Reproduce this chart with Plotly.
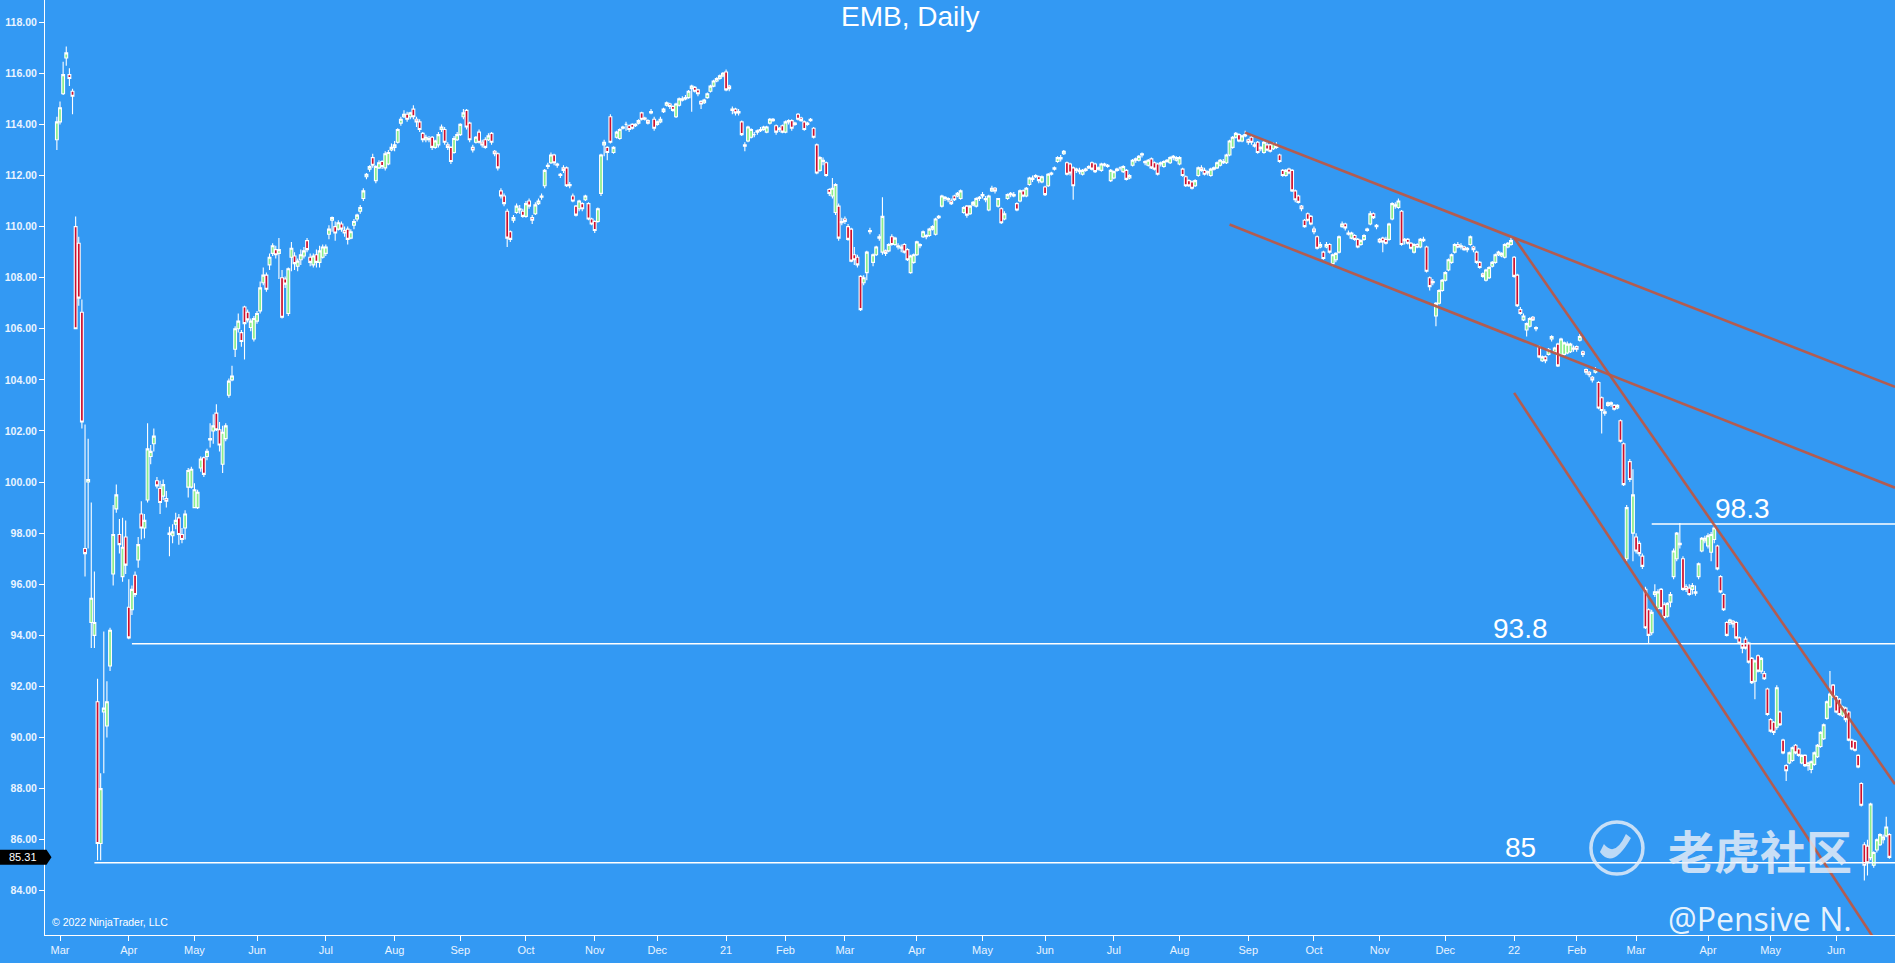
import plotly.graph_objects as go
import pandas as pd

# ---------------- data (EMB daily) ----------------
open_px = [
    113.4,
    114.1, 115.2, 116.6, 115.95, 115.3, 110.0, 109.35, 106.65, 97.4, 100.0, 94.5, 94.0, 91.4, 85.85, 91.0, 90.45, 92.8, 96.4, 98.95, 97.95, 96.3, 97.85,
    95.1, 95.0, 96.35, 96.95, 98.75, 98.2, 99.3, 101.0, 101.5, 100.05, 99.75, 99.45, 99.35, 97.95, 97.9, 98.35, 98.6, 97.95, 98.2, 99.8, 99.8,
    99.0, 99.0, 100.55, 100.95, 101.0, 101.65, 102.0, 102.7, 102.05, 100.7, 101.7, 103.4, 104.0, 105.2, 106.0, 105.85, 106.85, 106.65, 106.05, 105.6,
    106.3, 106.7, 107.8, 108.1, 108.5, 108.95, 109.1, 108.95, 108.0, 107.95, 106.6, 108.8, 108.85, 108.45, 108.7, 108.85, 109.45, 108.8, 108.5, 108.9, 108.6, 108.8,
    108.95, 109.7, 110.25, 110.0, 109.9, 110.1, 109.85, 109.9, 109.55, 110.05, 110.3, 110.6, 111.1, 111.95, 112.25, 112.7, 111.8, 112.3, 112.55, 112.3, 112.45, 113.0,
    113.1, 113.3, 114.05, 114.3, 114.4, 114.3, 114.6, 114.2, 114.1, 113.65, 113.4, 113.45, 113.5, 113.1, 113.2, 113.8, 113.8, 113.2, 113.1, 112.9, 113.4,
    113.6, 114.3, 114.55, 114.05, 113.1, 113.3, 113.7, 113.3, 113.4, 113.4, 113.65, 112.95, 112.85, 111.4, 111.2, 110.6, 109.8, 110.25, 110.55, 110.65, 110.6,
    110.4, 111.0, 110.35, 110.5, 110.9, 111.15, 111.6, 112.35, 112.5, 112.8, 112.45, 112.05, 112.3, 112.3, 111.65, 111.2, 110.8, 110.7, 110.9, 111.05, 110.9, 110.3,
    110.2, 110.2, 111.3, 113.2, 113.1, 114.3, 112.9, 113.5, 113.45, 113.85, 114.0, 113.95, 114.0, 113.95, 114.05, 114.45, 114.25, 114.15, 114.45, 114.2,
    114.0, 114.1, 114.5, 114.75, 114.8, 114.7, 114.3, 114.75, 114.95, 115.0, 115.05, 115.4, 115.45, 115.35, 114.9, 114.85, 115.05, 115.3, 115.5, 115.7, 115.8, 115.9,
    116.05, 115.5, 114.55, 114.6, 114.5, 114.1, 113.2, 113.35, 113.5, 113.6, 113.7, 113.75, 113.8, 113.7, 114.05, 114.2, 113.95, 113.8, 113.95,
    113.7, 114.1, 114.15, 114.0, 114.4, 114.25, 114.1, 114.0, 114.15, 113.85, 113.2, 112.2, 112.55, 112.5, 111.45, 111.2, 110.55, 110.8, 110.2,
    110.3, 110.0, 109.9, 108.9, 108.8, 108.05, 107.8, 108.2, 109.8, 108.6, 108.9, 109.55, 109.0, 109.05, 109.05, 109.6, 109.3, 109.25, 109.15, 109.3, 109.1, 108.2, 108.6,
    108.9, 109.25, 109.6, 109.65, 109.65, 109.9, 109.7, 110.35, 110.8, 111.1, 111.1, 111.0, 111.2, 111.2, 111.1, 110.55, 110.8, 110.5, 110.85, 110.8, 111.1,
    111.2, 111.1, 110.65, 111.4, 111.5, 110.8, 110.7, 110.3, 111.1, 111.25, 111.2, 110.9, 111.0, 111.4, 111.2, 111.65, 111.85, 111.95, 111.95, 111.75,
    111.55, 111.6, 112.05, 112.25, 112.55, 112.65, 112.85, 112.5, 112.45, 112.3, 112.2, 112.2, 112.05, 112.2, 112.3, 112.5, 112.45, 112.25, 112.2, 112.4, 112.4, 111.8,
    111.9, 112.2, 112.3, 112.15, 112.2, 111.9, 112.4, 112.6, 112.6, 112.8, 112.55, 112.4, 112.65, 112.5, 112.45, 112.45, 112.35, 112.55, 112.5, 112.7, 112.6,
    112.45, 112.25, 111.95, 111.8, 111.75, 111.6, 112.0, 112.3, 112.2, 112.1, 112.0, 112.25, 112.3, 112.4, 112.5, 112.5, 112.8, 113.1, 113.5, 113.6, 113.35, 113.55,
    113.4, 113.5, 113.2, 113.3, 113.1, 112.9, 113.2, 113.2, 113.05, 113.15, 112.8, 112.2, 112.0, 112.25, 112.2, 111.4, 111.2, 110.8, 110.25, 110.5, 110.4,
    109.9, 109.6, 109.2, 109.0, 109.2, 109.3, 108.55, 108.7, 109.0, 110.0, 110.1, 109.75, 109.55, 109.65, 109.5, 109.3, 109.5, 109.85, 110.1, 110.5, 110.05,
    109.5, 109.55, 109.5, 109.5, 110.3, 110.85, 110.75, 110.6, 109.5, 109.5, 109.35, 109.0, 109.3, 109.2, 109.45, 109.2, 108.0, 107.85, 106.5, 107.0, 107.5,
    107.9, 108.3, 108.6, 109.0, 109.3, 109.2, 109.2, 109.15, 109.3, 109.2, 109.0, 108.6, 108.15, 107.9, 108.0, 108.45, 108.6, 108.9, 108.85, 108.8, 109.2, 109.3,
    108.8, 108.1, 106.75, 106.35, 105.95, 106.1, 106.45, 106.05, 105.3, 104.75, 104.9, 105.0, 105.6, 105.1, 105.4, 105.0, 105.0, 105.05, 105.1, 105.25,
    105.3, 105.55, 105.1, 104.4, 104.3, 104.1, 104.3, 103.9, 103.3, 102.75, 103.0, 103.05, 103.0, 102.9, 102.4, 101.5, 97.0, 100.8, 98.0,
    97.85, 97.6, 97.1, 95.8, 95.0, 94.1, 95.6, 95.05, 95.8, 95.2, 94.75, 95.3, 96.3, 97.0, 97.6, 97.0, 95.9, 95.85, 95.8, 95.65, 96.3, 97.3, 97.7,
    97.5, 97.25, 97.75, 97.5, 96.3, 95.6, 94.5, 94.5, 94.55, 94.5, 93.9, 93.65, 93.85, 93.7, 93.1, 92.2, 93.2, 92.6, 92.5, 91.9,
    90.7, 90.6, 90.4, 91.0, 89.9, 88.9, 89.0, 89.1, 89.7, 89.55, 89.0, 89.3, 88.9, 88.75, 88.95, 89.25, 89.65, 89.95, 90.75, 91.2, 92.05,
    91.6, 91.5, 90.85, 91.15, 91.0, 89.9, 89.85, 89.3, 88.2, 85.8, 85.75, 85.3, 85.0, 85.6, 85.8, 86.0, 86.15, 86.2,
]

high_px = [
    114.3,
    114.9, 116.45, 117.05, 116.2, 115.4, 110.4, 109.6, 107.15, 102.25, 101.7, 99.2, 96.5, 92.3, 88.6, 94.15, 92.2, 94.3, 99.1, 99.9, 98.55, 98.6, 98.5,
    96.2, 95.95, 96.5, 97.85, 99.25, 98.75, 102.3, 101.45, 102.1, 100.2, 100.05, 100.1, 99.65, 98.25, 98.35, 98.8, 98.75, 98.2, 98.9, 100.55, 100.6,
    99.95, 99.7, 101.0, 101.0, 101.3, 102.3, 102.65, 103.05, 102.35, 102.2, 102.3, 104.05, 104.55, 106.1, 106.6, 105.95, 106.9, 106.75, 106.4, 106.5,
    106.7, 107.85, 108.4, 108.2, 108.95, 109.35, 109.25, 109.55, 108.3, 108.05, 108.4, 109.4, 109.0, 108.75, 109.1, 109.2, 109.55, 108.95, 108.95, 109.1, 109.25, 109.3,
    109.3, 110.05, 110.4, 110.2, 110.25, 110.2, 110.0, 110.0, 109.9, 110.3, 110.5, 110.85, 111.5, 112.1, 112.4, 112.85, 112.4, 112.6, 112.6, 112.95, 113.0, 113.25,
    113.35, 113.85, 114.3, 114.55, 114.5, 114.5, 114.75, 114.3, 114.2, 113.7, 113.6, 113.55, 113.55, 113.4, 113.7, 114.0, 113.9, 113.3, 113.15, 113.55, 113.7,
    114.05, 114.6, 114.6, 114.1, 113.2, 113.55, 113.8, 113.4, 113.5, 113.65, 113.7, 113.0, 112.9, 111.5, 111.3, 110.7, 109.85, 110.45, 110.9, 110.85, 110.7,
    111.0, 111.1, 110.45, 110.95, 111.1, 111.3, 112.25, 112.5, 112.9, 112.85, 112.5, 112.1, 112.4, 112.35, 111.75, 111.3, 110.85, 111.05, 110.95, 111.25, 110.95, 110.35,
    110.25, 110.75, 112.85, 113.4, 113.15, 114.4, 113.15, 113.75, 113.85, 113.95, 114.1, 114.0, 114.05, 114.05, 114.2, 114.5, 114.3, 114.2, 114.6, 114.3,
    114.15, 114.3, 114.65, 114.9, 114.85, 114.75, 114.85, 115.05, 115.1, 115.15, 115.35, 115.55, 115.5, 115.4, 114.95, 115.0, 115.25, 115.55, 115.75, 115.85, 115.95, 116.05,
    116.15, 115.55, 114.7, 114.65, 114.6, 114.15, 113.3, 113.95, 113.85, 113.7, 113.8, 113.9, 113.95, 113.95, 114.25, 114.25, 114.0, 113.9, 114.0,
    114.15, 114.2, 114.2, 114.1, 114.45, 114.3, 114.15, 114.1, 114.25, 113.9, 113.25, 112.75, 112.7, 112.55, 111.5, 111.9, 111.7, 110.9, 110.35,
    110.4, 110.1, 109.95, 109.2, 108.9, 108.1, 108.1, 109.05, 109.95, 108.95, 109.25, 109.7, 111.15, 109.1, 109.35, 109.7, 109.6, 109.35, 109.3, 109.35, 109.15, 108.9, 108.95,
    109.45, 109.35, 109.85, 109.7, 109.95, 110.05, 110.35, 110.45, 111.25, 111.2, 111.15, 111.1, 111.25, 111.35, 111.45, 110.8, 110.85, 110.85, 111.0, 111.15, 111.2,
    111.35, 111.2, 111.25, 111.6, 111.55, 111.1, 110.75, 110.6, 111.3, 111.35, 111.35, 110.95, 111.45, 111.45, 111.55, 111.95, 112.0, 112.05, 112.0, 112.0,
    111.6, 112.1, 112.15, 112.35, 112.75, 112.8, 113.0, 112.55, 112.5, 112.35, 112.3, 112.3, 112.25, 112.3, 112.4, 112.55, 112.5, 112.35, 112.5, 112.5, 112.45, 112.25,
    112.2, 112.3, 112.35, 112.4, 112.25, 112.05, 112.65, 112.7, 112.8, 112.9, 112.6, 112.65, 112.7, 112.55, 112.5, 112.55, 112.6, 112.65, 112.75, 112.8, 112.75,
    112.75, 112.3, 112.0, 111.85, 111.8, 111.85, 112.35, 112.4, 112.3, 112.2, 112.3, 112.35, 112.55, 112.65, 112.65, 112.85, 113.4, 113.55, 113.7, 113.65, 113.6, 113.75,
    113.45, 113.55, 113.3, 113.35, 113.15, 113.35, 113.35, 113.25, 113.3, 113.3, 112.85, 112.25, 112.25, 112.3, 112.25, 111.45, 111.25, 110.85, 110.3, 110.55, 110.45,
    110.0, 109.65, 109.4, 109.05, 109.4, 109.35, 108.95, 109.0, 109.65, 110.2, 110.15, 109.85, 109.8, 109.7, 109.55, 109.5, 109.7, 109.95, 110.6, 110.55, 110.1,
    109.55, 109.6, 109.6, 110.15, 110.95, 110.95, 111.1, 110.65, 109.55, 109.55, 109.4, 109.35, 109.35, 109.55, 109.6, 109.25, 108.05, 107.95, 107.05, 107.55, 107.95,
    108.25, 108.75, 108.95, 109.35, 109.4, 109.35, 109.25, 109.2, 109.65, 109.25, 109.05, 108.65, 108.2, 108.35, 108.45, 108.65, 108.95, 109.05, 109.0, 109.35, 109.4, 109.6,
    108.85, 108.15, 106.85, 106.6, 106.25, 106.45, 106.5, 106.1, 105.35, 104.95, 104.95, 105.25, 105.75, 105.3, 105.45, 105.65, 105.5, 105.5, 105.45, 105.35,
    105.35, 105.8, 105.15, 104.45, 104.35, 104.15, 104.5, 103.95, 103.35, 102.85, 103.15, 103.15, 103.05, 103.05, 102.45, 101.55, 99.1, 100.9, 100.5,
    98.0, 97.7, 97.2, 95.9, 95.05, 95.0, 96.0, 95.8, 95.85, 95.3, 95.3, 95.7, 97.4, 98.05, 98.4, 97.1, 96.0, 96.0, 96.05, 95.95, 96.85, 97.85, 97.9,
    98.0, 98.05, 98.4, 97.55, 96.35, 95.65, 94.55, 94.65, 94.6, 94.55, 93.95, 93.7, 93.95, 93.75, 93.15, 93.05, 93.25, 93.15, 92.6, 91.95,
    90.75, 90.65, 92.05, 91.05, 89.95, 88.95, 89.45, 89.65, 89.75, 89.6, 89.35, 89.35, 89.05, 89.1, 89.45, 89.75, 90.25, 90.55, 91.45, 92.6, 92.1,
    91.65, 91.55, 91.25, 91.2, 91.05, 89.95, 89.9, 89.35, 88.25, 85.9, 86.0, 87.45, 85.55, 86.05, 86.25, 86.2, 86.9, 86.25,
]

low_px = [
    113.0,
    114.0, 115.15, 116.3, 115.5, 114.4, 106.0, 106.9, 102.1, 96.3, 97.4, 93.5, 93.5, 85.2, 85.2, 88.6, 90.0, 92.6, 95.95, 98.8, 97.2, 96.1, 96.4,
    93.85, 94.8, 95.5, 96.65, 97.75, 97.8, 99.2, 100.7, 101.2, 99.75, 98.75, 99.3, 99.0, 97.1, 97.6, 98.15, 97.55, 97.6, 97.75, 99.4, 99.75,
    99.0, 98.95, 100.4, 100.2, 100.85, 101.35, 101.5, 102.0, 101.2, 100.35, 101.6, 103.3, 103.95, 104.9, 105.85, 105.3, 104.8, 106.25, 105.9, 105.5,
    106.2, 106.6, 107.7, 107.45, 108.3, 108.85, 108.75, 107.95, 106.4, 107.6, 106.5, 108.25, 108.3, 108.25, 108.5, 108.75, 109.0, 108.45, 108.4, 108.4, 108.4, 108.75,
    108.85, 109.5, 109.8, 109.45, 109.85, 109.8, 109.6, 109.3, 109.5, 109.9, 110.2, 110.5, 111.0, 111.85, 112.15, 112.3, 111.7, 112.25, 112.25, 112.2, 112.4, 112.95,
    112.95, 113.25, 113.95, 114.25, 114.1, 114.2, 114.2, 113.9, 113.7, 113.3, 113.3, 113.3, 113.0, 113.05, 113.1, 113.7, 113.2, 113.0, 112.45, 112.85, 113.35,
    113.55, 114.2, 113.8, 113.3, 112.9, 113.25, 113.25, 113.1, 113.05, 113.35, 113.2, 112.75, 112.2, 111.1, 110.8, 109.2, 109.4, 110.15, 110.5, 110.5, 110.35,
    110.35, 110.7, 110.1, 110.45, 110.85, 111.05, 111.5, 112.25, 112.45, 112.4, 112.3, 111.9, 112.1, 111.55, 111.5, 110.95, 110.4, 110.6, 110.6, 111.0, 110.25, 110.05,
    109.75, 110.15, 111.2, 112.75, 112.6, 113.25, 112.85, 113.45, 113.4, 113.8, 113.75, 113.7, 113.8, 113.9, 114.0, 114.15, 114.15, 114.0, 114.4, 113.75,
    113.95, 114.05, 114.45, 114.7, 114.6, 114.5, 114.25, 114.7, 114.9, 114.95, 115.0, 114.5, 115.25, 115.1, 114.6, 114.8, 115.0, 115.25, 115.45, 115.65, 115.75, 115.85,
    115.3, 115.3, 114.4, 114.35, 114.35, 113.55, 112.95, 113.3, 113.45, 113.5, 113.6, 113.7, 113.75, 113.65, 114.0, 114.1, 113.6, 113.7, 113.65,
    113.65, 114.0, 113.75, 113.95, 114.15, 114.1, 113.75, 113.95, 114.1, 113.45, 112.05, 112.15, 112.4, 111.95, 111.2, 111.1, 110.45, 109.45, 110.05,
    110.1, 109.45, 108.6, 108.5, 108.4, 106.7, 107.7, 107.9, 109.7, 108.45, 108.85, 109.45, 108.9, 108.85, 109.0, 109.25, 109.25, 109.1, 109.0, 108.95, 108.65, 108.15, 108.55,
    108.85, 109.15, 109.55, 109.5, 109.6, 109.85, 109.65, 110.3, 110.75, 111.0, 110.95, 110.85, 111.0, 111.15, 111.05, 110.5, 110.35, 110.45, 110.8, 110.75, 111.0,
    111.1, 110.95, 110.6, 111.35, 111.3, 110.75, 110.1, 110.25, 111.05, 111.15, 111.15, 110.6, 110.95, 111.15, 111.15, 111.6, 111.75, 111.9, 111.7, 111.7,
    111.2, 111.55, 112.0, 112.2, 112.5, 112.55, 112.8, 112.0, 112.0, 111.05, 112.1, 112.05, 112.0, 112.15, 112.25, 112.2, 112.1, 112.2, 112.15, 112.35, 112.3, 111.75,
    111.85, 112.15, 112.2, 112.1, 111.8, 111.85, 112.35, 112.5, 112.55, 112.7, 112.4, 112.35, 112.25, 112.2, 112.0, 112.35, 112.3, 112.5, 112.45, 112.6, 112.55,
    112.4, 111.95, 111.55, 111.55, 111.45, 111.55, 111.95, 112.15, 112.0, 112.0, 111.95, 112.2, 112.25, 112.35, 112.45, 112.45, 112.75, 113.05, 113.45, 113.3, 113.3, 113.5,
    113.2, 113.2, 113.1, 112.85, 112.95, 112.85, 112.95, 112.9, 113.0, 113.05, 112.5, 111.95, 111.95, 112.05, 111.35, 110.95, 110.9, 110.6, 109.95, 110.2, 110.05,
    109.7, 109.1, 109.15, 108.7, 109.15, 108.95, 108.45, 108.6, 108.95, 109.95, 109.85, 109.65, 109.5, 109.45, 109.15, 109.25, 109.45, 109.8, 110.05, 110.3, 109.9,
    109.35, 109.0, 109.3, 109.45, 110.25, 110.7, 110.7, 109.25, 109.3, 109.3, 109.1, 108.95, 109.15, 109.15, 109.4, 108.2, 107.5, 107.7, 106.1, 106.95, 107.45,
    107.85, 108.25, 108.55, 108.95, 109.15, 109.1, 109.05, 109.0, 109.25, 109.0, 108.55, 108.35, 108.0, 107.85, 107.95, 108.4, 108.55, 108.85, 108.8, 108.75, 109.15, 109.25,
    108.0, 106.85, 106.55, 106.3, 105.7, 106.05, 106.3, 105.9, 104.85, 104.7, 104.65, 104.95, 105.5, 105.05, 104.5, 104.95, 104.95, 105.0, 105.05, 105.1,
    105.1, 105.5, 104.9, 104.2, 104.1, 103.9, 104.25, 102.85, 101.9, 102.6, 102.95, 102.95, 102.8, 102.85, 101.55, 99.85, 96.9, 100.0, 96.9,
    97.2, 97.1, 96.6, 94.25, 93.7, 94.0, 95.5, 95.0, 95.0, 94.6, 94.7, 95.1, 96.2, 96.9, 97.4, 95.75, 95.7, 95.55, 95.6, 95.55, 96.2, 97.25, 97.6,
    97.4, 96.9, 97.6, 96.55, 95.65, 94.95, 93.95, 94.4, 94.3, 93.85, 93.65, 93.3, 93.45, 92.9, 92.1, 91.5, 92.55, 92.5, 92.25, 90.85,
    90.2, 90.1, 90.3, 90.45, 89.35, 88.3, 88.95, 89.05, 89.35, 89.25, 88.95, 88.85, 88.7, 88.6, 88.9, 89.2, 89.6, 89.9, 90.7, 91.15, 91.55,
    90.95, 90.85, 90.8, 90.6, 89.85, 89.5, 89.45, 88.8, 87.3, 84.4, 84.6, 85.2, 84.9, 85.5, 85.75, 85.85, 86.1, 85.25,
]

close_px = [
    114.1,
    114.65, 115.95, 116.8, 115.8, 115.1, 106.0, 107.2, 102.35, 97.2, 100.1, 95.45, 94.5, 85.85, 88.0, 91.15, 91.4, 94.2, 97.95, 99.5, 97.55, 97.45, 96.75,
    93.9, 95.8, 95.6, 97.55, 98.2, 98.5, 101.3, 101.2, 101.8, 99.85, 99.2, 99.9, 99.25, 98.0, 98.05, 98.5, 97.95, 97.75, 98.75, 100.45, 100.5,
    99.7, 99.6, 100.9, 100.3, 101.2, 101.7, 102.2, 102.05, 101.45, 101.95, 102.2, 103.95, 104.15, 106.0, 106.3, 105.5, 106.2, 106.35, 106.3, 106.4,
    106.6, 107.6, 108.1, 107.55, 108.8, 109.25, 108.9, 109.1, 106.45, 107.75, 108.35, 109.15, 108.55, 108.65, 108.9, 109.05, 109.1, 108.6, 108.85, 108.6, 109.05, 109.2,
    109.2, 109.9, 110.35, 109.75, 110.15, 109.9, 109.75, 109.5, 109.8, 110.2, 110.45, 110.75, 111.4, 112.05, 112.35, 112.4, 112.35, 112.5, 112.35, 112.85, 112.9, 113.1,
    113.2, 113.8, 114.2, 114.4, 114.2, 114.45, 114.3, 114.1, 113.8, 113.4, 113.5, 113.4, 113.1, 113.35, 113.6, 113.9, 113.3, 113.1, 112.55, 113.45, 113.6,
    114.0, 114.45, 113.9, 113.4, 113.0, 113.5, 113.3, 113.2, 113.1, 113.55, 113.3, 112.85, 112.3, 111.2, 110.9, 109.55, 109.5, 110.35, 110.8, 110.7, 110.4,
    110.9, 110.8, 110.25, 110.85, 111.0, 111.2, 112.2, 112.4, 112.8, 112.5, 112.4, 112.0, 112.2, 111.6, 111.6, 111.0, 110.45, 111.0, 110.7, 111.2, 110.3, 110.1,
    109.85, 110.7, 112.8, 113.3, 112.9, 113.3, 113.1, 113.7, 113.8, 113.9, 114.0, 113.8, 113.85, 114.0, 114.15, 114.2, 114.2, 114.05, 114.5, 113.85,
    114.1, 114.2, 114.6, 114.85, 114.7, 114.55, 114.8, 115.0, 115.0, 115.05, 115.3, 115.5, 115.3, 115.2, 114.8, 114.95, 115.2, 115.5, 115.7, 115.8, 115.9, 116.0,
    115.35, 115.4, 114.6, 114.45, 114.45, 113.6, 113.15, 113.9, 113.8, 113.6, 113.75, 113.8, 113.9, 113.9, 114.2, 114.15, 113.7, 113.85, 113.7,
    114.1, 114.15, 113.85, 114.05, 114.2, 114.15, 113.8, 114.05, 114.2, 113.5, 112.1, 112.7, 112.6, 112.0, 111.3, 111.5, 111.65, 109.55, 110.15,
    110.2, 109.5, 108.65, 108.7, 108.5, 106.75, 108.0, 109.0, 109.85, 108.9, 109.2, 109.6, 110.4, 108.95, 109.3, 109.3, 109.55, 109.2, 109.2, 109.0, 108.7, 108.85, 108.9,
    109.4, 109.3, 109.8, 109.6, 109.9, 110.0, 110.3, 110.4, 111.2, 111.15, 111.05, 110.9, 111.05, 111.3, 111.4, 110.75, 110.45, 110.8, 110.95, 111.1, 111.15,
    111.25, 111.05, 111.2, 111.5, 111.4, 111.1, 110.15, 110.5, 111.25, 111.3, 111.25, 110.65, 111.4, 111.2, 111.5, 111.9, 111.9, 112.0, 111.8, 111.95,
    111.25, 112.05, 112.1, 112.3, 112.7, 112.7, 112.95, 112.05, 112.1, 111.6, 112.25, 112.15, 112.2, 112.25, 112.35, 112.25, 112.15, 112.3, 112.45, 112.45, 112.35, 112.2,
    112.15, 112.25, 112.3, 112.35, 111.85, 112.0, 112.6, 112.65, 112.75, 112.85, 112.5, 112.6, 112.3, 112.25, 112.05, 112.5, 112.55, 112.6, 112.7, 112.75, 112.7,
    112.7, 112.0, 111.6, 111.6, 111.5, 111.8, 112.3, 112.2, 112.05, 112.15, 112.25, 112.3, 112.5, 112.6, 112.55, 112.8, 113.35, 113.5, 113.65, 113.35, 113.55, 113.6,
    113.3, 113.3, 113.15, 112.9, 113.05, 113.3, 113.0, 112.95, 113.25, 113.1, 112.55, 112.0, 112.2, 112.1, 111.4, 111.05, 110.95, 110.7, 110.0, 110.25, 110.1,
    109.8, 109.15, 109.3, 108.75, 109.3, 109.0, 108.9, 108.95, 109.6, 110.1, 109.95, 109.7, 109.75, 109.5, 109.2, 109.45, 109.65, 109.9, 110.5, 110.35, 110.0,
    109.4, 109.4, 109.35, 110.1, 110.9, 110.8, 111.0, 109.3, 109.45, 109.35, 109.15, 109.3, 109.2, 109.5, 109.5, 108.25, 107.65, 107.8, 107.0, 107.5, 107.9,
    108.2, 108.7, 108.9, 109.3, 109.2, 109.25, 109.1, 109.1, 109.6, 109.1, 108.6, 108.4, 108.05, 108.3, 108.4, 108.6, 108.9, 109.0, 108.95, 109.3, 109.35, 109.45,
    108.05, 106.9, 106.6, 106.5, 106.2, 106.4, 106.35, 106.0, 104.9, 104.9, 104.75, 105.2, 105.7, 105.25, 104.55, 105.6, 105.45, 105.4, 105.4, 105.2,
    105.2, 105.7, 105.0, 104.3, 104.2, 104.0, 104.4, 102.9, 102.8, 102.7, 103.1, 103.1, 102.85, 103.0, 101.6, 99.9, 99.0, 100.1, 99.5,
    97.3, 97.2, 96.7, 94.3, 94.0, 94.9, 95.7, 95.7, 95.05, 94.7, 95.25, 95.6, 97.3, 98.0, 97.55, 95.8, 95.8, 95.6, 95.95, 95.7, 96.8, 97.8, 97.8,
    97.9, 97.95, 98.2, 96.6, 95.7, 95.0, 94.0, 94.6, 94.45, 93.9, 93.7, 93.5, 93.5, 92.95, 92.15, 93.0, 92.6, 93.1, 92.3, 90.9,
    90.25, 90.2, 91.95, 90.5, 89.4, 88.7, 89.4, 89.6, 89.4, 89.3, 89.3, 88.9, 89.0, 89.05, 89.4, 89.7, 90.2, 90.5, 91.4, 91.7, 91.6,
    91.0, 90.9, 91.2, 90.7, 89.9, 89.55, 89.5, 88.85, 87.35, 85.0, 85.1, 87.4, 85.5, 86.0, 86.2, 86.1, 86.5, 85.31,
]

# trading calendar
start_date = "2020-02-28"
end_date = "2022-06-27"
holidays = ["2020-04-10", "2020-05-25", "2020-07-03", "2020-09-07", "2020-11-26", "2020-12-25",
            "2021-01-01", "2021-01-18", "2021-02-15", "2021-04-02", "2021-05-31", "2021-07-05",
            "2021-09-06", "2021-11-25", "2021-12-24", "2022-01-17", "2022-02-21", "2022-04-15",
            "2022-05-30", "2022-06-20"]

# horizontal levels drawn on the chart
level_values = [85.1, 93.67, 98.36]
level_start = ["2020-03-17", "2020-04-02", "2022-03-08"]
level_labels = ["85", "93.8", "98.3"]
level_label_dates = ["2022-01-05", "2022-01-05", "2022-04-19"]

# trend lines: two anchor points each (date, price)
trend_d0 = ["2021-08-31", "2021-08-24", "2022-01-03", "2022-01-03"]
trend_p0 = [113.68, 110.08, 109.56, 103.49]
trend_d1 = ["2022-01-03", "2022-01-14", "2022-04-05", "2022-06-13"]
trend_p1 = [109.56, 105.24, 98.32, 82.89]

last_price = 85.31

# ---------------- build ----------------
lens = [len(open_px), len(high_px), len(low_px), len(close_px)]
if len(set(lens)) != 1:
    raise ValueError("length mismatch %s" % lens)

dates = pd.bdate_range(start_date, end_date)
dates = dates[~dates.isin(pd.to_datetime(holidays))]
n = min(len(dates), lens[0])
dates = dates[:n]
idx = list(range(n))
pos = {d.strftime("%Y-%m-%d"): i for i, d in enumerate(dates)}

tick_idx, tick_txt = [], []
for i in range(1, n):
    if dates[i].month != dates[i - 1].month:
        tick_idx.append(i)
        tick_txt.append(dates[i].strftime("%y") if dates[i].month == 1 else dates[i].strftime("%b"))

X_RANGE = [-3.8, 587.8]
Y_RANGE = [82.27, 118.87]
BG = "#3399F3"
FONT = "Liberation Sans, Arial, sans-serif"
TREND_COLOR = "rgba(185,88,72,0.95)"

fig = go.Figure()
fig.add_trace(go.Candlestick(
    x=idx, open=open_px[:n], high=high_px[:n], low=low_px[:n], close=close_px[:n],
    increasing=dict(fillcolor="rgb(140,238,140)", line=dict(color="white", width=1.1)),
    decreasing=dict(fillcolor="rgb(205,15,45)", line=dict(color="white", width=1.1)),
    whiskerwidth=0, hoverinfo="skip", showlegend=False,
))

for lv, ls in zip(level_values, level_start):
    fig.add_trace(go.Scatter(x=[pos[ls], X_RANGE[1]], y=[lv, lv], mode="lines",
                             line=dict(color="white", width=1.6), hoverinfo="skip", showlegend=False))

for d0, p0, d1, p1 in zip(trend_d0, trend_p0, trend_d1, trend_p1):
    i0, i1 = pos[d0], pos[d1]
    slope = (p1 - p0) / (i1 - i0)
    xe = X_RANGE[1]
    fig.add_trace(go.Scatter(x=[i0, xe], y=[p0, p0 + slope * (xe - i0)], mode="lines",
                             line=dict(color=TREND_COLOR, width=2.6), hoverinfo="skip", showlegend=False))

annotations = []
for lv, lab, ld in zip(level_values, level_labels, level_label_dates):
    annotations.append(dict(x=pos[ld], y=lv, xref="x", yref="y", text=lab, showarrow=False,
                            xanchor="center", yanchor="bottom", yshift=-2,
                            font=dict(family=FONT, size=28, color="white")))

annotations.append(dict(x=0.4676, y=0.982, xref="paper", yref="paper", text="EMB, Daily",
                        showarrow=False, xanchor="center", yanchor="middle",
                        font=dict(family=FONT, size=28, color="white")))
annotations.append(dict(x=0.0027, y=0.0139, xref="paper", yref="paper", text="© 2022 NinjaTrader, LLC",
                        showarrow=False, xanchor="left", yanchor="middle",
                        font=dict(family=FONT, size=10.5, color="white")))
annotations.append(dict(x=0.927, y=0.092, xref="paper", yref="paper", text="老虎社区",
                        showarrow=False, xanchor="center", yanchor="middle",
                        font=dict(family="Noto Sans CJK SC", size=46, weight="bold",
                                  color="rgba(236,240,247,0.82)")))
annotations.append(dict(x=0.927, y=0.0175, xref="paper", yref="paper", text="@Pensive N.",
                        showarrow=False, xanchor="center", yanchor="middle",
                        font=dict(family="Open Sans, sans-serif", size=32, color="rgba(255,255,255,0.9)")))

yp_last = (last_price - Y_RANGE[0]) / (Y_RANGE[1] - Y_RANGE[0])
annotations.append(dict(x=-0.0119, y=yp_last, xref="paper", yref="paper", text="85.31",
                        showarrow=False, xanchor="center", yanchor="middle",
                        font=dict(family=FONT, size=11, color="white")))

shapes = [
    dict(type="path", xref="paper", yref="paper", xsizemode="pixel", ysizemode="pixel",
         xanchor=0, yanchor=yp_last, path="M -45,-7.5 L 1.5,-7.5 L 6.5,0 L 1.5,7.5 L -45,7.5 Z",
         fillcolor="black", line=dict(width=0)),
    dict(type="circle", xref="paper", yref="paper", xsizemode="pixel", ysizemode="pixel",
         xanchor=0.8497, yanchor=0.093, x0=-26, x1=26, y0=-26, y1=26,
         line=dict(color="rgba(236,240,247,0.8)", width=3.5)),
    dict(type="path", xref="paper", yref="paper", xsizemode="pixel", ysizemode="pixel",
         xanchor=0.8497, yanchor=0.093,
         path="M -17,-4 Q -4,-22 14,10 L 9,14 Q -2,-10 -13,4 Z",
         fillcolor="rgba(236,240,247,0.75)", line=dict(width=0)),
]

fig.update_layout(
    width=1895, height=963,
    margin=dict(l=45, r=0, t=0, b=28),
    paper_bgcolor=BG, plot_bgcolor=BG,
    font=dict(family=FONT, color="white"),
    showlegend=False,
    boxgap=0.1, boxgroupgap=0,
    annotations=annotations,
    shapes=shapes,
    xaxis=dict(range=X_RANGE, tickmode="array", tickvals=tick_idx, ticktext=tick_txt,
               showgrid=False, zeroline=False, showline=True, linecolor="white", linewidth=1,
               ticks="outside", ticklen=5, tickcolor="white",
               tickfont=dict(family=FONT, size=11, color="#EAF4FF"),
               rangeslider=dict(visible=False), fixedrange=True),
    yaxis=dict(range=Y_RANGE, tick0=0, dtick=2, tickformat=".2f",
               showgrid=False, zeroline=False, showline=True, linecolor="white", linewidth=1,
               ticks="outside", ticklen=5, tickcolor="white",
               tickfont=dict(family=FONT, size=10.5, color="#EAF4FF", weight="bold"),
               fixedrange=True),
)

fig.write_html("out.html", config={"displayModeBar": False},
               post_script="document.body.style.margin='0';document.body.style.overflow='hidden';")
